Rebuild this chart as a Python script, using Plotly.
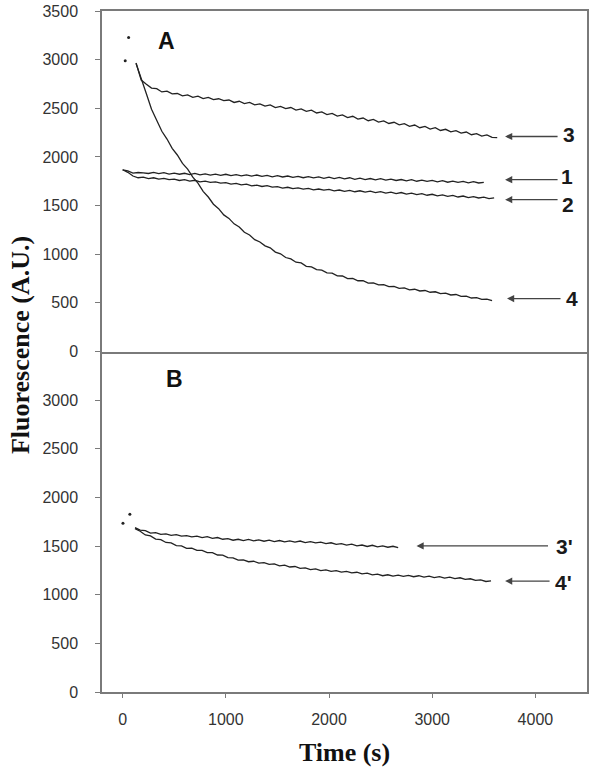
import plotly.graph_objects as go
from plotly.subplots import make_subplots

# Panel A traces (time in s, fluorescence in A.U.)
t_a1 = list(range(0, 3501, 50))
a1 = [1868, 1856, 1834, 1840, 1836, 1830, 1842, 1828, 1838, 1824,
      1834, 1822, 1832, 1818, 1830, 1816, 1826, 1814, 1824, 1810,
      1822, 1808, 1818, 1806, 1816, 1802, 1814, 1800, 1810, 1796,
      1808, 1794, 1804, 1790, 1800, 1786, 1798, 1784, 1794, 1780,
      1792, 1778, 1790, 1774, 1786, 1770, 1782, 1766, 1778, 1764,
      1776, 1762, 1772, 1758, 1768, 1754, 1766, 1750, 1762, 1748,
      1758, 1744, 1756, 1740, 1752, 1738, 1748, 1734, 1746, 1732,
      1738]

t_a2 = list(range(0, 3601, 50))
a2 = [1868, 1842, 1804, 1786, 1792, 1778, 1786, 1772, 1780, 1766,
      1772, 1758, 1766, 1752, 1760, 1744, 1752, 1738, 1744, 1730,
      1736, 1720, 1728, 1712, 1720, 1702, 1710, 1696, 1704, 1690,
      1694, 1680, 1688, 1674, 1682, 1670, 1676, 1662, 1670, 1658,
      1666, 1652, 1660, 1646, 1656, 1642, 1652, 1638, 1648, 1634,
      1644, 1628, 1638, 1622, 1634, 1618, 1628, 1612, 1622, 1606,
      1616, 1600, 1610, 1594, 1604, 1588, 1598, 1582, 1592, 1578,
      1586, 1572, 1580]

t_a3 = list(range(130, 3631, 50))
a3 = [2965, 2790, 2748, 2708, 2702, 2668, 2676, 2648, 2652, 2628,
      2638, 2612, 2624, 2600, 2612, 2590, 2598, 2578, 2585, 2560,
      2572, 2548, 2560, 2536, 2546, 2522, 2535, 2508, 2520, 2496,
      2508, 2482, 2494, 2468, 2480, 2452, 2462, 2436, 2448, 2420,
      2432, 2404, 2418, 2388, 2400, 2372, 2386, 2358, 2370, 2344,
      2356, 2330, 2342, 2314, 2328, 2300, 2314, 2286, 2300, 2272,
      2284, 2258, 2270, 2244, 2256, 2228, 2240, 2214, 2226, 2202,
      2198]

t_a4 = list(range(130, 3581, 50))
a4 = [2962, 2796, 2650, 2490, 2380, 2264, 2184, 2088, 2020, 1934,
      1874, 1792, 1730, 1646, 1588, 1514, 1468, 1404, 1368, 1312,
      1280, 1226, 1198, 1150, 1126, 1086, 1066, 1022, 1004, 966,
      952, 918, 910, 876, 870, 842, 836, 808, 805, 778,
      776, 750, 751, 727, 728, 703, 706, 684, 688, 666,
      670, 649, 654, 634, 640, 622, 627, 609, 614, 595,
      600, 581, 586, 566, 570, 550, 554, 535, 539, 522]

dots_a_t = [25, 58]
dots_a = [2988, 3227]

# Panel B traces
t_b3 = list(range(120, 2671, 50))
b3 = [1690, 1664, 1658, 1634, 1638, 1620, 1626, 1610, 1618, 1602,
      1608, 1594, 1602, 1586, 1596, 1580, 1588, 1570, 1576, 1560,
      1570, 1556, 1568, 1554, 1564, 1550, 1560, 1546, 1557, 1543,
      1554, 1540, 1552, 1536, 1546, 1532, 1541, 1526, 1534, 1518,
      1526, 1510, 1520, 1503, 1511, 1496, 1508, 1492, 1502, 1488,
      1498, 1485]

t_b4 = list(range(120, 3571, 50))
b4 = [1680, 1652, 1614, 1604, 1572, 1566, 1537, 1532, 1504, 1502,
      1477, 1478, 1455, 1456, 1433, 1433, 1408, 1406, 1381, 1379,
      1356, 1359, 1339, 1344, 1325, 1330, 1311, 1316, 1297, 1304,
      1285, 1290, 1271, 1276, 1258, 1265, 1248, 1256, 1240, 1248,
      1232, 1240, 1224, 1231, 1214, 1221, 1204, 1211, 1195, 1205,
      1191, 1202, 1188, 1199, 1185, 1195, 1181, 1190, 1176, 1185,
      1171, 1180, 1165, 1174, 1157, 1164, 1147, 1153, 1136, 1142]

dots_b_t = [3, 70]
dots_b = [1735, 1827]

# arrow labels: (text, head x, head y, tail offset px, label x, label y, panel)
arrows = [
    ("3", 3706, 2210, 54, 4323, 2228, 1),
    ("1", 3706, 1766, 54, 4303, 1797, 1),
    ("2", 3706, 1561, 54, 4314, 1509, 1),
    ("4", 3725, 544, 55, 4352, 544, 1),
    ("3'", 2848, 1502, 133, 4285, 1499, 2),
    ("4'", 3706, 1140, 46, 4275, 1129, 2),
]

LINE = dict(color="#222222", width=1.3)
AXCOL = "#7a7a7a"
TICKFONT = dict(family="Liberation Sans, Arial", size=16, color="#333333")

fig = make_subplots(rows=2, cols=1, shared_xaxes=True, vertical_spacing=0)

for t, v in [(t_a1, a1), (t_a2, a2), (t_a3, a3), (t_a4, a4)]:
    fig.add_trace(go.Scatter(x=t, y=v, mode="lines", line=LINE), row=1, col=1)
fig.add_trace(go.Scatter(x=dots_a_t, y=dots_a, mode="markers",
                         marker=dict(color="#222222", size=3)), row=1, col=1)

for t, v in [(t_b3, b3), (t_b4, b4)]:
    fig.add_trace(go.Scatter(x=t, y=v, mode="lines", line=LINE), row=2, col=1)
fig.add_trace(go.Scatter(x=dots_b_t, y=dots_b, mode="markers",
                         marker=dict(color="#222222", size=3)), row=2, col=1)

axis_common = dict(showline=True, linecolor=AXCOL, linewidth=1.5,
                   showgrid=False, zeroline=False, tickfont=TICKFONT,
                   automargin=False)

fig.update_xaxes(range=[-200, 4500], **axis_common)
fig.update_xaxes(ticks="", showticklabels=False, mirror=True, row=1, col=1)
fig.update_xaxes(ticks="outside", ticklen=4, tickcolor=AXCOL, tickwidth=1.2,
                 mirror=False, tickvals=[0, 1000, 2000, 3000, 4000],
                 ticklabelstandoff=8,
                 title=dict(text="Time (s)", standoff=16,
                            font=dict(family="Liberation Serif, Times New Roman",
                                      size=26, color="#111111", weight="bold")),
                 row=2, col=1)
fig.update_yaxes(range=[0, 3500], ticks="outside", ticklen=5, tickcolor=AXCOL,
                 tickwidth=1.2, mirror=True, ticklabelstandoff=14, **axis_common)
fig.update_yaxes(tickvals=[0, 500, 1000, 1500, 2000, 2500, 3000, 3500],
                 domain=[0.5, 1], row=1, col=1)
fig.update_yaxes(tickvals=[0, 500, 1000, 1500, 2000, 2500, 3000],
                 domain=[0, 0.5], row=2, col=1)

for text, hx, hy, off, lx, ly, panel in arrows:
    yref = "y" if panel == 1 else "y2"
    xref = "x" if panel == 1 else "x2"
    fig.add_annotation(x=hx, y=hy, xref=xref, yref=yref, text="",
                       showarrow=True, ax=off, ay=0, arrowhead=2,
                       arrowsize=1.1, arrowwidth=1.3, arrowcolor="#444444")
    fig.add_annotation(x=lx, y=ly, xref=xref, yref=yref, text=text,
                       showarrow=False, xanchor="center", yanchor="middle",
                       font=dict(family="Liberation Sans, Arial", size=21,
                                 color="#1a1a1a", weight="bold"))

fig.add_annotation(x=422, y=3188, xref="x", yref="y", text="A", showarrow=False,
                   font=dict(family="Liberation Sans, Arial", size=23,
                             color="#111111", weight="bold"))
fig.add_annotation(x=504, y=3213, xref="x2", yref="y2", text="B", showarrow=False,
                   font=dict(family="Liberation Sans, Arial", size=23,
                             color="#111111", weight="bold"))

fig.add_annotation(x=-0.169, y=0.5095, xref="paper", yref="paper",
                   text="Fluorescence (A.U.)", textangle=-90, showarrow=False,
                   xanchor="center", yanchor="middle",
                   font=dict(family="Liberation Serif, Times New Roman", size=26,
                             color="#111111", weight="bold"))

fig.update_layout(
    width=600, height=780,
    paper_bgcolor="white", plot_bgcolor="white",
    showlegend=False,
    margin=dict(l=102, r=13, t=11, b=88),
)

# drop the default 8px page margin so the figure sits at the window's corner
fig.write_html("out.html", config={"displayModeBar": False},
               post_script="document.body.style.margin='0';")
